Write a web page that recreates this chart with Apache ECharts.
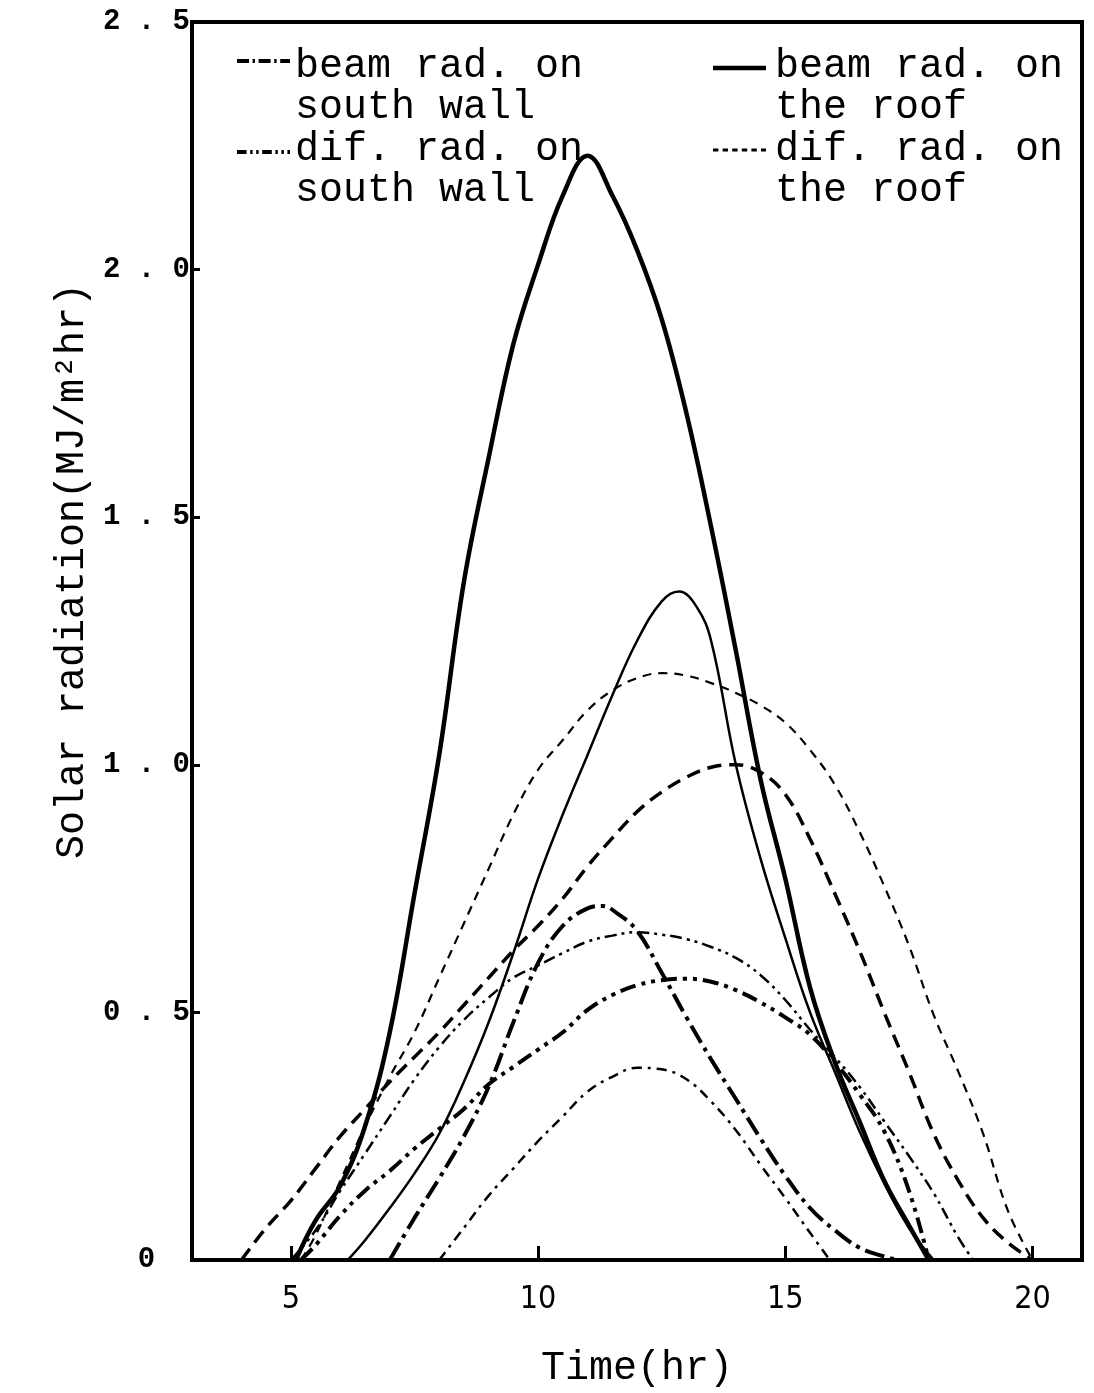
<!DOCTYPE html>
<html>
<head>
<meta charset="utf-8">
<script src="https://cdn.jsdelivr.net/npm/echarts@6/dist/echarts.min.js"></script>
<style>
html,body{margin:0;padding:0;background:#fff;}
#chart{width:1094px;height:1393px;}
</style>
</head>
<body>
<div id="chart"></div>
<script>
// ---- data (time in hr, radiation in MJ/m2hr) ----
const xTicks = [5, 10, 15, 20];
const yTicks = [0, 0.5, 1.0, 1.5, 2.0, 2.5];

const beamRoofA = [[5.1,0],[5.5,0.08],[6.0,0.15],[6.5,0.27],[7.0,0.46],[7.5,0.74],[8.0,1.02],[8.5,1.37],[9.0,1.62],[9.5,1.85],[10.0,2.01],[10.5,2.15],[11.0,2.23],[11.5,2.15],[12.0,2.04],[12.5,1.90],[13.0,1.71],[13.5,1.48],[14.0,1.23],[14.5,0.97],[15.0,0.77],[15.5,0.55],[16.0,0.40],[16.5,0.28],[17.0,0.16],[17.5,0.07],[17.9,0]];
const beamRoofB = [[6.15,0],[6.5,0.04],[7.0,0.105],[7.5,0.175],[8.0,0.255],[8.5,0.36],[9.0,0.48],[9.5,0.62],[10.0,0.77],[10.5,0.90],[11.0,1.02],[11.5,1.14],[12.0,1.25],[12.5,1.33],[12.85,1.35],[13.2,1.32],[13.5,1.25],[14.0,1.0],[14.5,0.81],[15.0,0.65],[15.5,0.50],[16.0,0.38],[16.5,0.26],[17.0,0.155],[17.5,0.065],[18.0,0]];
const difRoofA = [[5.2,0],[5.5,0.05],[6.0,0.16],[6.5,0.27],[7.0,0.37],[7.5,0.46],[8.0,0.57],[8.5,0.68],[9.0,0.79],[9.5,0.90],[10.0,0.99],[10.5,1.05],[11.0,1.11],[11.5,1.15],[12.0,1.175],[12.5,1.185],[13.0,1.18],[13.5,1.165],[14.0,1.145],[14.5,1.12],[15.0,1.085],[15.5,1.03],[16.0,0.96],[16.5,0.865],[17.0,0.755],[17.5,0.635],[18.0,0.495],[18.5,0.38],[19.0,0.255],[19.5,0.10],[20.0,0]];
const difRoofB = [[4.0,0],[4.5,0.065],[5.0,0.12],[5.5,0.185],[6.0,0.25],[6.5,0.305],[7.0,0.36],[7.5,0.41],[8.0,0.46],[8.5,0.515],[9.0,0.57],[9.5,0.625],[10.0,0.675],[10.5,0.73],[11.0,0.795],[11.5,0.852],[12.0,0.905],[12.5,0.945],[13.0,0.975],[13.5,0.995],[14.0,1.0],[14.5,0.985],[15.0,0.94],[15.5,0.85],[16.0,0.74],[16.5,0.625],[17.0,0.50],[17.5,0.38],[18.0,0.255],[18.5,0.16],[19.0,0.085],[19.5,0.035],[20.0,0]];
const beamWallA = [[7.0,0],[7.5,0.085],[8.0,0.165],[8.5,0.25],[9.0,0.35],[9.5,0.48],[10.0,0.60],[10.5,0.675],[11.0,0.71],[11.3,0.715],[11.6,0.70],[12.0,0.665],[12.5,0.58],[13.0,0.49],[13.5,0.405],[14.0,0.325],[14.5,0.245],[15.0,0.17],[15.5,0.105],[16.0,0.06],[16.5,0.025],[17.0,0.007],[17.3,0]];
const beamWallB = [[8.0,0],[8.5,0.065],[9.0,0.13],[9.5,0.185],[10.0,0.24],[10.5,0.29],[11.0,0.34],[11.5,0.37],[12.0,0.388],[12.5,0.385],[13.0,0.365],[13.5,0.32],[14.0,0.262],[14.5,0.192],[15.0,0.125],[15.5,0.055],[15.9,0]];
const difWallA = [[5.0,0],[5.5,0.06],[6.0,0.14],[6.5,0.215],[7.0,0.29],[7.5,0.365],[8.0,0.43],[8.5,0.485],[9.0,0.53],[9.5,0.57],[10.0,0.595],[10.5,0.62],[11.0,0.643],[11.5,0.655],[12.0,0.662],[12.5,0.657],[13.0,0.648],[13.5,0.632],[14.0,0.61],[14.5,0.575],[15.0,0.525],[15.5,0.465],[16.0,0.41],[16.5,0.35],[17.0,0.28],[17.5,0.21],[18.0,0.135],[18.5,0.045],[18.8,0]];
const difWallB = [[5.2,0],[5.5,0.03],[6.0,0.09],[6.5,0.14],[7.0,0.18],[7.5,0.225],[8.0,0.265],[8.5,0.305],[9.0,0.355],[9.5,0.39],[10.0,0.425],[10.5,0.46],[11.0,0.505],[11.5,0.535],[12.0,0.555],[12.5,0.565],[13.0,0.568],[13.5,0.562],[14.0,0.545],[14.5,0.52],[15.0,0.49],[15.5,0.455],[16.0,0.40],[16.5,0.335],[17.0,0.26],[17.5,0.14],[17.9,0]];

const legendLines = [
  ['beam rad. on', 'south wall'],
  ['dif. rad. on', 'south wall'],
  ['beam rad. on', 'the roof'],
  ['dif. rad. on', 'the roof']
];

// ---- styles ----
const MONO = "'Liberation Mono','DejaVu Sans Mono',monospace";
const styles = {
  beamRoofA: {width: 4.5, type: 'solid'},
  beamRoofB: {width: 2.5, type: 'solid'},
  difRoofA:  {width: 2.2, type: [9, 7]},
  difRoofB:  {width: 3.5, type: [14, 8]},
  beamWallA: {width: 4,   type: [20, 6, 4, 6]},
  beamWallB: {width: 2.5, type: [10, 6, 3, 6]},
  difWallA:  {width: 2.5, type: [12, 5, 3, 5, 3, 5]},
  difWallB:  {width: 4,   type: [16, 6, 4, 6, 4, 6]}
};
const seriesData = {beamRoofA, beamRoofB, difRoofA, difRoofB, beamWallA, beamWallB, difWallA, difWallB};

const series = Object.keys(seriesData).map(k => ({
  name: k,
  type: 'line',
  data: seriesData[k],
  smooth: 0.4,
  showSymbol: false,
  symbol: 'none',
  lineStyle: {color: '#000', width: styles[k].width, type: styles[k].type, cap: 'butt'},
  z: 3
}));

// legend drawn with graphic elements
const graphic = [];
const legendPos = [
  {sx1: 237, sx2: 290, sy: 61, tx: 295, ty: 66, style: styles.beamWallA},
  {sx1: 237, sx2: 290, sy: 152, tx: 295, ty: 149, style: styles.difWallB},
  {sx1: 713, sx2: 766, sy: 68, tx: 775, ty: 66, style: styles.beamRoofA},
  {sx1: 713, sx2: 766, sy: 150, tx: 775, ty: 149, style: styles.difRoofA}
];
legendPos.forEach((p, i) => {
  graphic.push({
    type: 'line', shape: {x1: p.sx1, y1: p.sy, x2: p.sx2, y2: p.sy},
    style: {stroke: '#000', lineWidth: Math.max(3, p.style.width), lineDash: p.style.type === 'solid' ? null : p.style.type.map(v => v * 0.6)},
    z: 10
  });
  legendLines[i].forEach((t, j) => {
    graphic.push({
      type: 'text', x: p.tx, y: p.ty + j * 41,
      style: {text: t, font: '40px ' + MONO, fill: '#000', textVerticalAlign: 'middle', textAlign: 'left'},
      z: 10
    });
  });
});

const chart = echarts.init(document.getElementById('chart'));
chart.setOption({
  animation: false,
  backgroundColor: '#fff',
  grid: {left: 192, right: 12, top: 22, bottom: 133, show: true, borderColor: '#000', borderWidth: 4, containLabel: false},
  xAxis: {
    type: 'value', min: 3, max: 21,
    name: 'Time(hr)', nameLocation: 'middle', nameGap: 88,
    nameTextStyle: {fontFamily: MONO, fontSize: 40, color: '#000'},
    axisLine: {show: true, lineStyle: {color: '#000', width: 4}},
    axisTick: {show: true, inside: true, length: 14, lineStyle: {color: '#000', width: 3}, customValues: xTicks},
    axisLabel: {customValues: xTicks, color: '#000', fontSize: 32, margin: 24,
      fontFamily: "'Liberation Sans Narrow','DejaVu Sans Condensed','Liberation Sans',sans-serif"},
    splitLine: {show: false}
  },
  yAxis: {
    type: 'value', min: 0, max: 2.5, interval: 0.5,
    name: 'Solar radiation(MJ/m²hr)', nameLocation: 'middle', nameGap: 95,
    nameTextStyle: {fontFamily: MONO, fontSize: 40, color: '#000', padding: [0, 0, 0, 140]},
    axisLine: {show: true, lineStyle: {color: '#000', width: 4}},
    axisTick: {show: true, inside: true, length: 8, lineStyle: {color: '#000', width: 3}},
    axisLabel: {
      color: '#000', fontSize: 29, fontWeight: 'bold', fontFamily: MONO, margin: 2,
      formatter: v => v === 0 ? '0  ' : v.toFixed(1).split('').join(' ')
    },
    splitLine: {show: false}
  },
  graphic: graphic,
  series: series
});
</script>
</body>
</html>
